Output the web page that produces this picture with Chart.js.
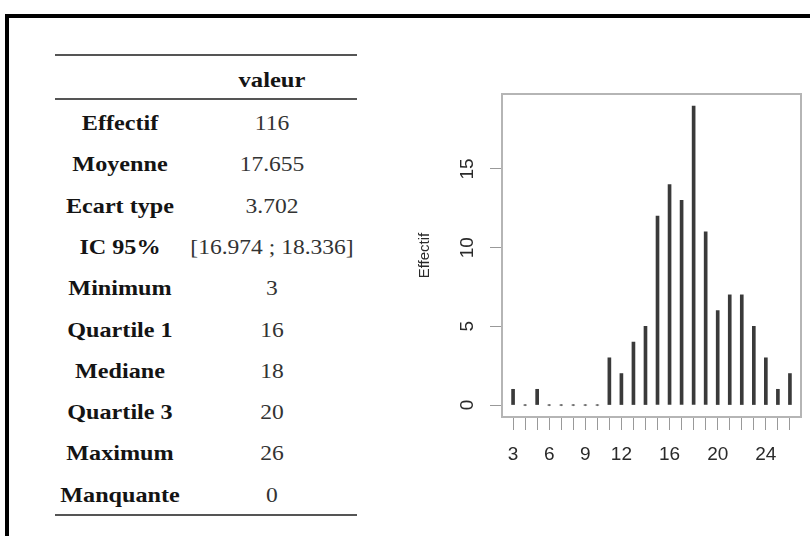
<!DOCTYPE html>
<html>
<head>
<meta charset="utf-8">
<script src="https://cdn.jsdelivr.net/npm/chart.js@4/dist/chart.umd.min.js"></script>
<style>
  html, body { margin: 0; padding: 0; background: #fff; width: 810px; height: 536px; overflow: hidden; }
  #frame { position: absolute; left: 5px; top: 14px; width: 830px; height: 540px;
           border-top: 4px solid #000; border-left: 4px solid #000; }
  .rule { position: absolute; left: 55px; width: 302px; height: 2px; background: #555; }
  .cell { position: absolute; height: 24px; line-height: 24px; text-align: center;
          font-family: 'Liberation Serif', 'Times New Roman', serif; font-size: 21px; white-space: nowrap;
          transform-origin: 50% 50%; }
  .lab { left: 40px; width: 160px; font-weight: bold; color: #141414; transform: scaleX(1.15); }
  .val { left: 172px; width: 200px; color: #333; transform: scaleX(1.12); }
  .head { font-weight: bold; color: #141414; transform: scaleX(1.17); }
  #wrap { position: absolute; left: 400px; top: 80px; width: 410px; height: 400px; }
</style>
</head>
<body>
<div id="frame"></div>
<div id="table"></div>
<div id="wrap"><canvas id="chart" width="410" height="400"></canvas></div>
<script>
// Summary statistics table
const statLabels = ['Effectif', 'Moyenne', 'Ecart type', 'IC 95%', 'Minimum',
                    'Quartile 1', 'Mediane', 'Quartile 3', 'Maximum', 'Manquante'];
const statValues = ['116', '17.655', '3.702', '[16.974 ; 18.336]', '3',
                    '16', '18', '20', '26', '0'];
const columnHeader = 'valeur';

// Distribution of scores
const scores     = [3, 4, 5, 6, 7, 8, 9, 10, 11, 12, 13, 14, 15, 16, 17, 18, 19, 20, 21, 22, 23, 24, 25, 26];
const effectifs  = [1, 0, 1, 0, 0, 0, 0, 0, 3, 2, 4, 5, 12, 14, 13, 19, 11, 6, 7, 7, 5, 3, 1, 2];
const xTickLabels = [3, 6, 9, 12, 16, 20, 24];
const yTickValues = [0, 5, 10, 15];
const yTitle = 'Effectif';

// ---- table ----
const table = document.getElementById('table');
function addCell(cls, text, cy) {
  const d = document.createElement('div');
  d.className = 'cell ' + cls;
  d.textContent = text;
  d.style.top = (cy - 12) + 'px';
  table.appendChild(d);
}
function addRule(y) {
  const r = document.createElement('div');
  r.className = 'rule';
  r.style.top = y + 'px';
  table.appendChild(r);
}
addRule(54);
addCell('val head', columnHeader, 80);
addRule(98);
const firstRow = 123, rowStep = 41.3;
statLabels.forEach((lab, i) => {
  const cy = firstRow + i * rowStep;
  addCell('lab', lab, cy);
  addCell('val', statValues[i], cy);
});
addRule(514);

// ---- chart ----
// axis ranges extended by 4% on each side
function padRange(lo, hi) { const p = (hi - lo) * 0.04; return [lo - p, hi + p]; }
const [xMin, xMax] = padRange(Math.min(...scores), Math.max(...scores));
const [yMin, yMax] = padRange(0, Math.max(...effectifs));

const points = scores.map((s, i) => ({ x: s, y: effectifs[i] }));

const plotBox = {
  id: 'plotBox',
  beforeDatasetsDraw(chart) {
    const { ctx, chartArea: a } = chart;
    ctx.save();
    ctx.strokeStyle = '#b5b5b5';
    ctx.lineWidth = 2;
    ctx.strokeRect(a.left, a.top, a.right - a.left, a.bottom - a.top);
    ctx.restore();
  }
};

const tickFont = { family: "'Liberation Sans', Arial, sans-serif", size: 19 };

new Chart(document.getElementById('chart'), {
  type: 'bar',
  data: {
    datasets: [
      {
        type: 'bar',
        data: points,
        backgroundColor: '#3a3a3a',
        borderWidth: 0,
        barThickness: 3
      },
      {
        type: 'scatter',
        data: points,
        pointRadius: c => (c.raw && c.raw.y === 0 ? 1.1 : 0),
        backgroundColor: '#8a8a8a',
        borderWidth: 0
      }
    ]
  },
  options: {
    responsive: false,
    animation: false,
    events: [],
    layout: { padding: { top: 14, right: 9, left: 0, bottom: 0 } },
    plugins: { legend: { display: false }, tooltip: { enabled: false } },
    scales: {
      x: {
        type: 'linear',
        min: xMin,
        max: xMax,
        offset: false,
        afterBuildTicks: s => { s.ticks = scores.map(v => ({ value: v })); },
        afterFit: s => { s.height = 63; s.paddingLeft = 0; s.paddingRight = 0; },
        ticks: {
          autoSkip: false,
          maxRotation: 0,
          minRotation: 0,
          padding: 13,
          color: '#2a2a2a',
          font: tickFont,
          callback: v => (xTickLabels.includes(v) ? String(v) : '')
        },
        grid: { drawOnChartArea: false, drawTicks: true, tickLength: 13, color: '#999', lineWidth: 1, offset: false },
        border: { display: false }
      },
      y: {
        type: 'linear',
        min: yMin,
        max: yMax,
        afterBuildTicks: s => { s.ticks = yTickValues.map(v => ({ value: v })); },
        afterFit: s => { s.width = 102; s.paddingTop = 0; s.paddingBottom = 0; },
        ticks: {
          minRotation: 90,
          maxRotation: 90,
          crossAlign: 'center',
          padding: 12,
          color: '#2a2a2a',
          font: tickFont,
          callback: v => String(v)
        },
        grid: { drawOnChartArea: false, drawTicks: true, tickLength: 12, color: '#999', lineWidth: 1 },
        border: { display: false },
        title: {
          display: true,
          text: yTitle,
          color: '#2a2a2a',
          font: { family: "'Liberation Sans', Arial, sans-serif", size: 15 },
          padding: { top: 16, bottom: 0 }
        }
      }
    }
  },
  plugins: [plotBox]
});
</script>
</body>
</html>
